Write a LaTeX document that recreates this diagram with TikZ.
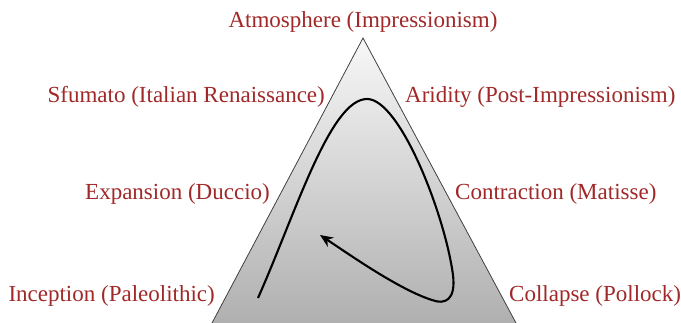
\documentclass[tikz,border=0pt]{standalone}
\usepackage{fontspec}
\setmainfont{Liberation Serif}
\usetikzlibrary{arrows.meta}
\definecolor{lbl}{RGB}{160,40,40}
\begin{document}
\begin{tikzpicture}[x=1pt,y=-1pt,
  lab/.style={text=lbl,font=\fontsize{23}{27}\selectfont,inner sep=0pt}]
\useasboundingbox (0,0) rectangle (681,323);
\coordinate (A) at (363,38);
\coordinate (L) at (212,323);
\coordinate (R) at (516,323);
\shade[top color=black!3,bottom color=black!31] (A) -- (L) -- (R) -- cycle;
\draw[black!75,line width=0.8pt] (L) -- (A) -- (R);
\node[lab,anchor=base] (atm) at (363,28) {Atmosphere (Impressionism)};
\node[lab,anchor=base east] (sfu) at (325,103) {Sfumato (Italian Renaissance)};
\node[lab,anchor=base west] (ari) at (405,103) {Aridity (Post-Impressionism)};
\node[lab,anchor=base east] (exp) at (270,200) {Expansion (Duccio)};
\node[lab,anchor=base west] (con) at (455,200) {Contraction (Matisse)};
\node[lab,anchor=base east] (inc) at (215,302) {Inception (Paleolithic)};
\node[lab,anchor=base west] (col) at (509,302) {Collapse (Pollock)};
\coordinate (s) at (258,298);
\coordinate (p) at (367,99);
\coordinate (q) at (453,275);
\coordinate (b) at (432,300);
\coordinate (e) at (320,235);
\draw[line width=2.1pt,-{Stealth[length=13pt,width=11pt]}]
  (s) .. controls (295,215) and (330,99) .. (p)
      .. controls (400,99) and (445,215) .. (q)
      .. controls (456,300) and (445,305) .. (b)
      .. controls (400,290) and (350,255) .. (e);
\end{tikzpicture}
\end{document}
